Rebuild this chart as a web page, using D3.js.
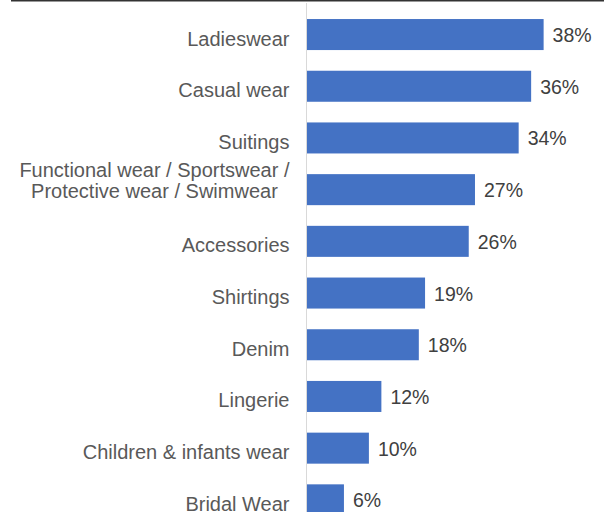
<!DOCTYPE html>
<html><head><meta charset="utf-8">
<script src="https://cdn.jsdelivr.net/npm/d3@7"></script>
<style>html,body{margin:0;padding:0;background:#fff;overflow:hidden}</style>
</head><body>
<svg id="c" width="604" height="512"></svg>
<script>
const categories = ["Ladieswear","Casual wear","Suitings","Functional wear / Sportswear /\nProtective wear / Swimwear","Accessories","Shirtings","Denim","Lingerie","Children & infants wear","Bridal Wear"];
const values = [38,36,34,27,26,19,18,12,10,6];
const valueLabels = ["38%","36%","34%","27%","26%","19%","18%","12%","10%","6%"];

const svg = d3.select("#c");
const x0 = 306.5;
const x = d3.scaleLinear().domain([0, 40]).range([x0, x0 + 40*6.24]);
const y = d3.scaleBand().domain(categories).range([8.7, 8.7 + 10*51.7]).paddingInner(0.4).paddingOuter(0.2);

// top border line
svg.append("line").attr("x1", 11).attr("x2", 604).attr("y1", 0.75).attr("y2", 0.75)
  .attr("stroke", "#333").attr("stroke-width", 1.5);

svg.append("g").selectAll("rect").data(categories).join("rect")
  .attr("x", x(0)).attr("y", d => y(d))
  .attr("width", (d,i) => x(values[i]) - x(0)).attr("height", y.bandwidth())
  .attr("fill", "#4472C4");

// axis line
svg.append("line").attr("x1", x0).attr("x2", x0).attr("y1", 3).attr("y2", 512)
  .attr("stroke", "#D9D9D9").attr("stroke-width", 1);

const font = "Liberation Sans, Arial, sans-serif";
// category labels
const cg = svg.append("g").attr("font-family", font).attr("font-size", 20).attr("fill", "#595959");
categories.forEach((c) => {
  const cy = y(c) + y.bandwidth()/2;
  const lines = c.split("\n");
  if (lines.length === 1) {
    cg.append("text").attr("x", 289.5).attr("y", cy + 11).attr("text-anchor", "end").text(c);
  } else {
    // centered multi-line block, right aligned to 290
    const t = cg.append("g");
    const texts = lines.map((l, k) => t.append("text").attr("y", cy - 12.6 + k*21).attr("text-anchor", "middle").text(l));
    let maxW = 0;
    texts.forEach(tt => { maxW = Math.max(maxW, tt.node().getComputedTextLength()); });
    texts.forEach(tt => tt.attr("x", 289.5 - maxW/2));
  }
});

// value labels
svg.append("g").attr("font-family", font).attr("font-size", 19.5).attr("fill", "#404040")
  .selectAll("text").data(categories).join("text")
  .attr("x", (d,i) => x(values[i]) + 9)
  .attr("y", d => y(d) + y.bandwidth()/2 + 7.5)
  .text((d,i) => valueLabels[i]);
</script>
</body></html>
